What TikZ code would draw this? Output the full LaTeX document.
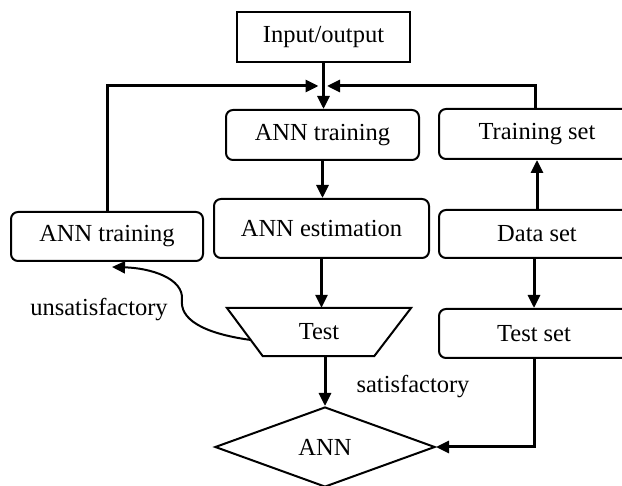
\documentclass[tikz,border=0pt]{standalone}
\usepackage{fontspec}
\setmainfont{Liberation Serif}
\usetikzlibrary{arrows.meta,shapes.geometric,calc}
\begin{document}
\begin{tikzpicture}[x=1pt,y=-1pt,
  txt/.style={font=\fontsize{24.5}{28}\selectfont, inner sep=0pt},
  box/.style={txt, draw, line width=2pt, rounded corners=7pt},
  sqbox/.style={txt, draw, line width=2pt},
  conn/.style={line width=3pt, -{Triangle[length=13pt,width=12pt]}},
  thin/.style={line width=2pt, -{Triangle[length=13pt,width=12pt]}}]
\useasboundingbox (0,0) rectangle (622,486);
\clip (0,0) rectangle (622,486);
% nodes
\node[sqbox, minimum width=173pt, minimum height=50pt] (io) at (323.5,37) {Input/output};
\node[box, minimum width=193pt, minimum height=50pt] (train1) at (322.5,135) {ANN training};
\node[box, minimum width=215pt, minimum height=59pt] (est) at (321.5,228.5) {ANN estimation};
\node[box, minimum width=192pt, minimum height=49pt] (train2) at (107,236.5) {ANN training};
\node[box, minimum width=196pt, minimum height=50pt] (tset) at (537,134) {Training set};
\node[box, minimum width=196pt, minimum height=48pt] (dset) at (537,234) {Data set};
\node[box, minimum width=190pt, minimum height=49pt] (testset) at (534,333.5) {Test set};
\node[txt, minimum width=184pt, minimum height=48pt] (test) at (319,332) {Test};
\draw[line width=2pt] (test.north west) -- (test.north east) -- ([xshift=-37pt]test.south east) -- ([xshift=36pt]test.south west) -- cycle;
\node[txt, draw, diamond, line width=2pt, minimum width=220pt, minimum height=80pt] (ann) at (325,447) {ANN};
\node[txt] (unsat) at (99,310) {unsatisfactory};
\node[txt] (sat) at (413,387) {satisfactory};
% coordinates
\coordinate (jl) at (318.5,86);
\coordinate (jr) at (327,86);
\coordinate (us) at (251,340);
\coordinate (utip) at (112,267);
% connectors
\draw[conn] (io.south) -- (io.south |- train1.north);
\draw[conn] (train2.north) |- (jl);
\draw[conn] ([xshift=-2pt]tset.north) |- (jr);
\draw[conn] (train1.south) -- (train1.south |- est.north);
\draw[conn] (est.south) -- (est.south |- test.north);
\draw[conn] (test.south -| ann.north) -- (ann.north);
\draw[conn] (dset.north) -- (tset.south);
\draw[conn] (dset.south -| testset.north) -- (testset.north);
\draw[conn] (testset.south) |- (ann.east);
\draw[thin] (us) .. controls (200,333) and (180,318) .. (182,300) .. controls (184,278) and (150,268) .. (utip);
\end{tikzpicture}
\end{document}
